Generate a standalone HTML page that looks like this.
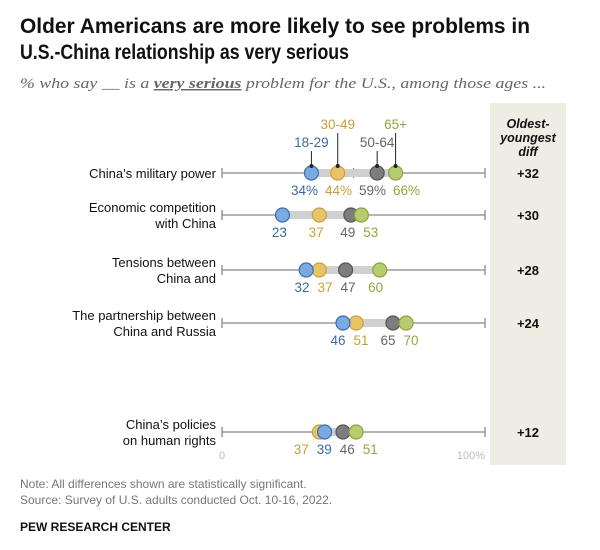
<!DOCTYPE html>
<html><head><meta charset="utf-8">
<style>
body{margin:0;background:#fff;}
svg{display:block;font-family:"Liberation Sans",sans-serif;}
</style></head>
<body>
<svg width="600" height="550" viewBox="0 0 600 550">
<text x="20" y="33" font-size="21" font-weight="bold" fill="#111" textLength="510" lengthAdjust="spacingAndGlyphs">Older Americans are more likely to see problems in</text>
<text x="20" y="59" font-size="21" font-weight="bold" fill="#111" textLength="329" lengthAdjust="spacingAndGlyphs">U.S.-China relationship as very serious</text>
<text x="20" y="88" font-size="14.5" font-style="italic" fill="#666" font-family="Liberation Serif,serif" textLength="526" lengthAdjust="spacingAndGlyphs">% who say __ is a <tspan font-weight="bold" text-decoration="underline">very serious</tspan> problem for the U.S., among those ages ...</text>
<rect x="490" y="103" width="76" height="362" fill="#eeede3"/>
<text x="528" y="128" font-size="12.5" font-weight="bold" font-style="italic" text-anchor="middle" fill="#111"><tspan x="528">Oldest-</tspan><tspan x="528" dy="14">youngest</tspan><tspan x="528" dy="14">diff</tspan></text>
<g id="plot"></g>
<text x="222" y="459" font-size="11" fill="#bbb" text-anchor="middle">0</text>
<text x="485" y="459" font-size="11" fill="#bbb" text-anchor="end">100%</text>
<text x="20" y="488" font-size="12" fill="#777">Note: All differences shown are statistically significant.</text>
<text x="20" y="504" font-size="12" fill="#777">Source: Survey of U.S. adults conducted Oct. 10-16, 2022.</text>
<text x="20" y="531" font-size="12" font-weight="bold" fill="#111">PEW RESEARCH CENTER</text>
</svg>
<script>
const categories=[["China’s military power"],["Economic competition","with China"],["Tensions between","China and"],["The partnership between","China and Russia"],["China’s policies","on human rights"]];
const ages=["18-29","30-49","50-64","65+"];
const v1829=[34,23,32,46,39];
const v3049=[44,37,37,51,37];
const v5064=[59,49,47,65,46];
const v65=[66,53,60,70,51];
const diffs=["+32","+30","+28","+24","+12"];
const rowY=[173,215,270,323,432];
const fills=["#7aaae0","#e8c466","#7d7d7d","#b6cc6e"];
const strokes=["#3c6eaf","#c9a23a","#555","#8ea33c"];
const txt=["#3a6aa5","#c9a031","#666","#93a63e"];
const x=v=>222+v*2.63;
const ns="http://www.w3.org/2000/svg";
const g=document.getElementById("plot");
function mk(t,a,p){const e=document.createElementNS(ns,t);for(const k in a)e.setAttribute(k,a[k]);(p||g).appendChild(e);return e;}
const series=[v1829,v3049,v5064,v65];
categories.forEach((c,i)=>{
 const y=rowY[i];
 const lab=mk("text",{x:216,"text-anchor":"end","font-size":13,fill:"#111",y:c.length==1?y+5:y-3});
 
 
 c.forEach((s,j)=>{const t=mk("tspan",{x:216,dy:j?16:0},lab);t.textContent=s;});
 const ax=mk("line",{x1:x(0),x2:x(100),y1:y,y2:y,stroke:"#888","stroke-width":1.3});
 
 
 [0,100].forEach(v=>mk("line",{x1:x(v),x2:x(v),y1:y-5,y2:y+5,stroke:"#888","stroke-width":1.3}));
 if(i==0) mk("line",{x1:x(50),x2:x(50),y1:y-5,y2:y+5,stroke:"#888","stroke-width":1.3});
 const vals=series.map(s=>s[i]);
 const mn=Math.min(...vals),mx=Math.max(...vals);
 const band=mk("rect",{x:x(mn),y:y-4,width:x(mx)-x(mn),height:8,fill:"#d0d0d0"});
 
 
 const order=[1,0,2,3];
 order.forEach(k=>{
  const d=mk("circle",{cx:x(series[k][i]),cy:y,r:7,fill:fills[k],stroke:strokes[k],"stroke-width":1.2});
  
  
 });
 const pos=vals.map(v=>x(v));
 const lx=pos.slice();
 const ord=[0,1,2,3].sort((a,b)=>pos[a]-pos[b]);
 const w=i==0?34:23;
 for(let j=1;j<4;j++){const a=ord[j-1],b=ord[j];if(lx[b]-lx[a]<w)lx[b]=lx[a]+w;}
 const shift=(pos.reduce((s,v)=>s+v,0)-lx.reduce((s,v)=>s+v,0))/4;
 ord.forEach(k=>{
  const t=mk("text",{x:lx[k]+shift,y:y+22,"text-anchor":"middle","font-size":13.5,fill:txt[k]});
  t.textContent=vals[k]+(i==0?"%":"");
  
  
 });
 const dt=mk("text",{x:528,y:y+5,"text-anchor":"middle","font-size":13,"font-weight":"bold",fill:"#111"});
 dt.textContent=diffs[i];
 
 
 if(i==0){
  const ly=[147,129,147,129];
  ages.forEach((a,k)=>{
   mk("line",{x1:pos[k],x2:pos[k],y1:ly[k]+4,y2:y-6,stroke:"#222","stroke-width":1});
   mk("circle",{cx:pos[k],cy:y-7,r:2,fill:"#222"});
   const t=mk("text",{x:pos[k],y:ly[k],"text-anchor":"middle","font-size":13.5,fill:txt[k]});
   t.textContent=a;
   
   
  });
 }
});
</script>
</body></html>
